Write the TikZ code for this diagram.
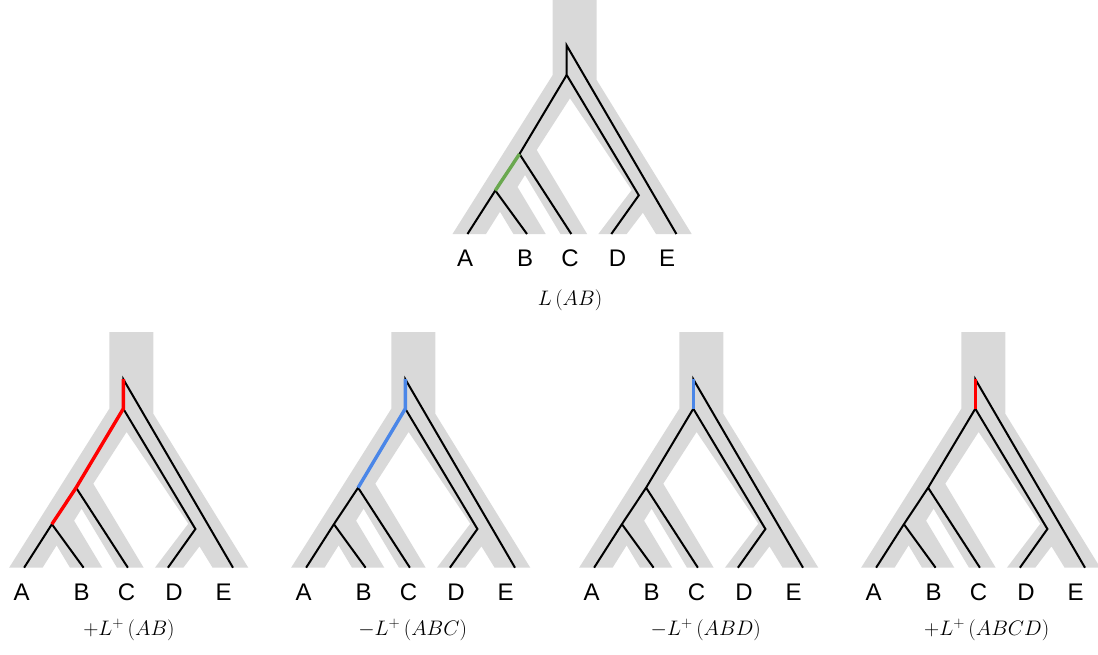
\RequirePackage{fix-cm}
\documentclass[tikz,border=0pt]{standalone}
\usepackage{fontspec}
\newfontfamily\labfont{Liberation Sans}
\definecolor{sgray}{HTML}{D9D9D9}
\definecolor{hred}{HTML}{FF0000}
\definecolor{hblue}{HTML}{4A86E8}
\definecolor{hgreen}{HTML}{6AA84F}
\tikzset{
  species/.style={fill=sgray, draw=none},
  gene/.style={draw=black, line width=2pt, line join=miter},
  hl/.style={line width=3.4pt, line join=miter},
  leaflab/.style={font={\fontsize{24}{28}\selectfont\labfont}, anchor=base, inner sep=0pt},
  mathlab/.style={font={\fontsize{21}{25}\selectfont}, anchor=base, inner sep=0pt},
}
% #1 prefix, #2 dx, #3 dy, #4 highlight, #5 caption, #6 caption x, #7 caption baseline y
\newcommand\gtree[7]{%
  \begin{scope}[shift={(#2,#3)}, name prefix=#1-]
    \fill[species] (552.7,-1.7) -- (596.7,-1.7) -- (596.7,80) -- (691.7,234) -- (656,234)
      -- (642.9,212.7) -- (626.7,234) -- (598.3,234) -- (631.7,190) -- (570,98.3)
      -- (536.7,150) -- (587.1,234) -- (560.4,234) -- (525,175) -- (517.5,187)
      -- (545.7,234) -- (513.4,234) -- (500,211.7) -- (486,234) -- (452.5,234)
      -- (552.7,75) -- cycle;
    \coordinate (rt) at (566.7,45.5);
    \coordinate (n1) at (566.7,75);
    \coordinate (nABC) at (519.5,154);
    \coordinate (nAB) at (495.3,190.5);
    \coordinate (A) at (467.5,234);
    \coordinate (B) at (527,234);
    \coordinate (C) at (571.3,234);
    \coordinate (Dk) at (638.8,195.3);
    \coordinate (D) at (611.3,234);
    \coordinate (E) at (676.4,234);
    \draw[gene] (E) -- (rt) -- (n1) -- (Dk) -- (D);
    \draw[gene] (n1) -- (nABC) -- (nAB) -- (A);
    \draw[gene] (nABC) -- (C);
    \draw[gene] (nAB) -- (B);
    #4
    \node[leaflab] (lA) at (465,266.7) {A};
    \node[leaflab] (lB) at (525,266.7) {B};
    \node[leaflab] (lC) at (570,266.7) {C};
    \node[leaflab] (lD) at (617.5,266.7) {D};
    \node[leaflab] (lE) at (667,266.7) {E};
  \end{scope}
  \node[mathlab] (#1-cap) at (#6,#7) {$#5$};
}
\begin{document}
\begin{tikzpicture}[x=1pt,y=-1pt]
  \useasboundingbox (0,0) rectangle (1098,654);
  \gtree{t0}{0}{0}{\draw[hl,hgreen] (nAB) -- (nABC);}{L\left(AB\right)}{570}{305}
  \gtree{t1}{-443.4}{333.7}{\draw[hl,hred] (rt) -- (n1) -- (nABC) -- (nAB);}{+L^{+}\left(AB\right)}{129}{635}
  \gtree{t2}{-161.4}{333.7}{\draw[hl,hblue] (rt) -- (n1) -- (nABC);}{-L^{+}\left(ABC\right)}{412.7}{635}
  \gtree{t3}{126.6}{333.7}{\draw[hl,hblue] (rt) -- (n1);}{-L^{+}\left(ABD\right)}{705.8}{635}
  \gtree{t4}{408.6}{333.7}{\draw[hl,hred] (rt) -- (n1);}{+L^{+}\left(ABCD\right)}{986.7}{635}
\end{tikzpicture}
\end{document}
